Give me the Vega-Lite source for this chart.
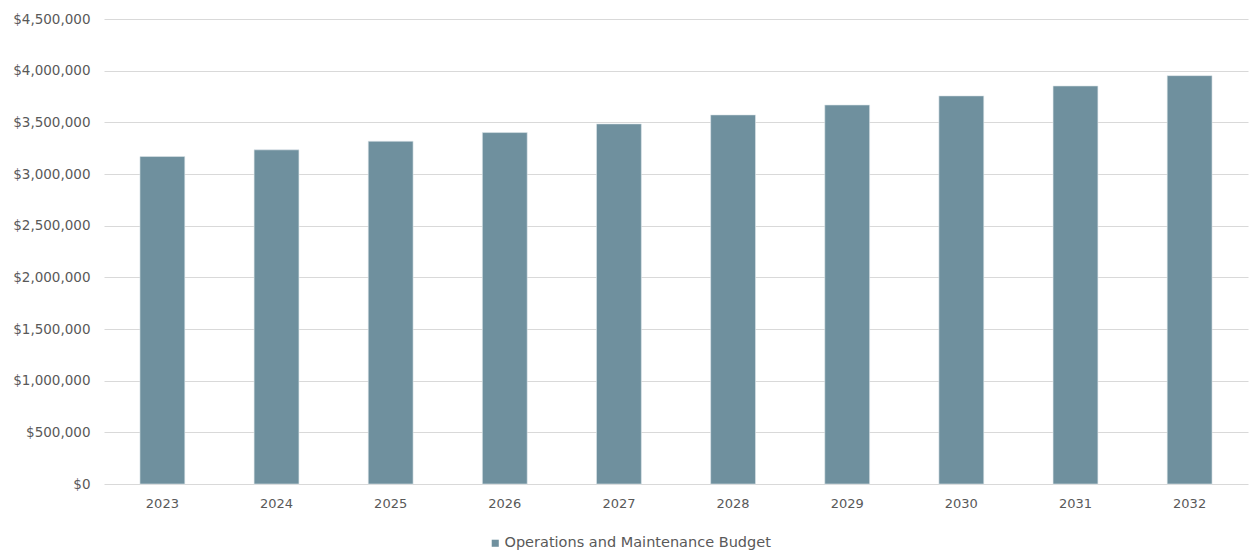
{
  "$schema": "https://vega.github.io/schema/vega-lite/v6.json",
  "autosize": "none",
  "padding": {"left": 104, "top": 19, "right": 1, "bottom": 70},
  "width": 1144,
  "height": 465,
  "background": "white",
  "data": {
    "values": [
      {"year": "2023", "budget": 3169000, "series": "Operations and Maintenance Budget"},
      {"year": "2024", "budget": 3234000, "series": "Operations and Maintenance Budget"},
      {"year": "2025", "budget": 3317000, "series": "Operations and Maintenance Budget"},
      {"year": "2026", "budget": 3401000, "series": "Operations and Maintenance Budget"},
      {"year": "2027", "budget": 3485000, "series": "Operations and Maintenance Budget"},
      {"year": "2028", "budget": 3572000, "series": "Operations and Maintenance Budget"},
      {"year": "2029", "budget": 3668000, "series": "Operations and Maintenance Budget"},
      {"year": "2030", "budget": 3756000, "series": "Operations and Maintenance Budget"},
      {"year": "2031", "budget": 3852000, "series": "Operations and Maintenance Budget"},
      {"year": "2032", "budget": 3952000, "series": "Operations and Maintenance Budget"}
    ]
  },
  "mark": {"type": "bar", "stroke": "#dfe7eb", "strokeWidth": 0.6},
  "encoding": {
    "x": {
      "field": "year",
      "type": "ordinal",
      "scale": {"paddingInner": 0.607, "paddingOuter": 0.315},
      "axis": {
        "title": null,
        "labelAngle": 0,
        "ticks": false,
        "domain": false,
        "labelPadding": 13,
        "labelFontSize": 13,
        "labelFont": "DejaVu Sans",
        "labelColor": "#595959"
      }
    },
    "y": {
      "field": "budget",
      "type": "quantitative",
      "scale": {"domain": [0, 4500000], "nice": false},
      "axis": {
        "title": null,
        "values": [0, 500000, 1000000, 1500000, 2000000, 2500000, 3000000, 3500000, 4000000, 4500000],
        "format": "$,.0f",
        "ticks": false,
        "domain": false,
        "grid": true,
        "gridColor": "#d9d9d9",
        "gridWidth": 1,
        "labelPadding": 14,
        "labelFontSize": 13.5,
        "labelFont": "DejaVu Sans",
        "labelColor": "#595959"
      }
    },
    "color": {
      "field": "series",
      "type": "nominal",
      "scale": {"range": ["#6f909e"]},
      "legend": {
        "title": null,
        "orient": "none",
        "legendX": 384,
        "legendY": 517,
        "symbolType": "square",
        "symbolSize": 50,
        "symbolStrokeWidth": 0,
        "labelFontSize": 14.5,
        "labelFont": "DejaVu Sans",
        "labelColor": "#595959",
        "labelOffset": 2,
        "labelLimit": 500
      }
    }
  },
  "config": {"view": {"stroke": null}}
}
